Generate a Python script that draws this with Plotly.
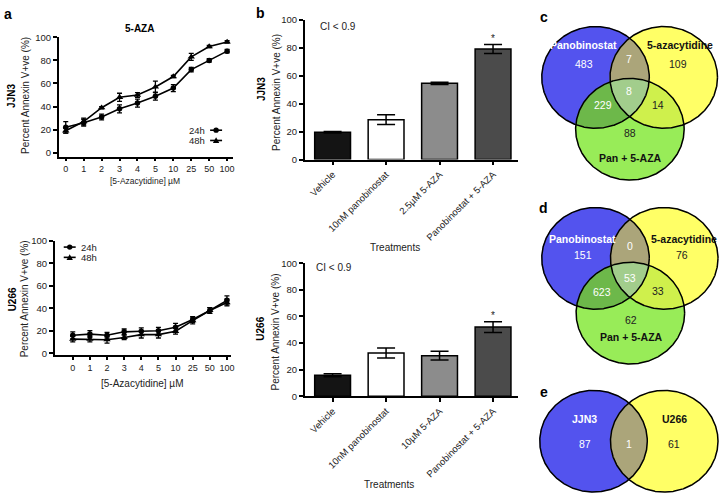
import numpy as np
import plotly.graph_objects as go

W, H = 725, 501
FONT = "Liberation Sans, Arial, sans-serif"

# ---------------- data ----------------
conc = ["0", "1", "2", "3", "4", "5", "10", "25", "50", "100"]
jjn3_24h = [22, 26, 31, 38, 43, 49, 56, 72, 80, 88]
jjn3_24h_err = [5, 3, 2.5, 3.5, 3.5, 3.5, 3, 2, 1.5, 1.5]
jjn3_48h = [19, 27, 39, 48, 50, 57, 66, 83, 92, 96]
jjn3_48h_err = [2, 3, 1, 3.5, 2, 5, 1, 3, 1, 1]
u266_24h = [16, 17, 16, 19, 19.5, 20, 23, 30, 38, 47]
u266_24h_err = [3, 3, 2.5, 2.5, 3, 3, 3.5, 2.5, 2.5, 4]
u266_48h = [12.5, 12.5, 12, 14, 16.5, 16.5, 19.5, 29, 38, 45]
u266_48h_err = [2.5, 2.5, 3, 2, 3, 3, 2.5, 3, 2.5, 3]

treat_jjn3 = ["Vehicle", "10nM panobinostat", "2.5µM 5-AZA", "Panobinostat + 5-AZA"]
bar_jjn3 = [19.5, 28.5, 54.5, 79]
bar_jjn3_err = [0.5, 3.5, 0.8, 3.2]
treat_u266 = ["Vehicle", "10nM panobinostat", "10µM 5-AZA", "Panobinostat + 5-AZA"]
bar_u266 = [15.8, 32.5, 30.5, 52]
bar_u266_err = [1.2, 3.8, 3.3, 4]
bar_colors = ["#141414", "#ffffff", "#8c8c8c", "#4b4b4b"]
sig_flags = ["", "", "", "*"]

venn3_sets = ["Panobinostat", "5-azacytidine", "Pan + 5-AZA"]
# order: P only, A only, C only, P&A, P&C, A&C, all
venn_c_counts = [483, 109, 88, 7, 229, 14, 8]
venn_d_counts = [151, 76, 62, 0, 623, 33, 53]
venn_e_sets = ["JJN3", "U266"]
venn_e_counts = [87, 61, 1]

# ---------------- helpers ----------------
def fx(px):
    return px / W

def fy(py):
    return 1 - py / H

fig = go.Figure()
annotations = []
shapes = []

def ann(x, y, text, size=10, bold=False, color="#222", angle=0, xanchor="center",
        yanchor="middle", xref="paper", yref="paper"):
    if bold:
        text = "<b>" + text + "</b>"
    if xref == "paper":
        x = fx(x)
    if yref == "paper":
        y = fy(y)
    annotations.append(dict(x=x, y=y, xref=xref, yref=yref, text=text, showarrow=False,
                            textangle=angle, xanchor=xanchor, yanchor=yanchor,
                            font=dict(family=FONT, size=size, color=color)))

axis_common = dict(showline=True, linecolor="black", linewidth=1.5, ticks="outside",
                   ticklen=4, tickwidth=1.5, tickcolor="black", showgrid=False,
                   zeroline=False, tickfont=dict(family=FONT, size=9.5, color="#222"))
xline_common = dict(axis_common, ticklen=3, tickfont=dict(family=FONT, size=9, color="#222"))

layout = dict(width=W, height=H, margin=dict(l=0, r=0, t=0, b=0),
              paper_bgcolor="white", plot_bgcolor="rgba(0,0,0,0)", showlegend=False,
              font=dict(family=FONT))

# ---------------- panel a (line charts) ----------------
xi = list(range(len(conc)))

def line_panel(ax, ay, y24, e24, y48, e48):
    for y, e, sym, sz in [(y24, e24, "circle", 5.5), (y48, e48, "triangle-up", 6.5)]:
        fig.add_trace(go.Scatter(
            x=xi, y=y, mode="lines+markers", xaxis=ax, yaxis=ay,
            line=dict(color="black", width=1.6),
            marker=dict(symbol=sym, size=sz, color="black"),
            error_y=dict(type="data", array=e, visible=True, color="black",
                         thickness=1.3, width=2.5),
            hoverinfo="skip"))

line_panel("x", "y", jjn3_24h, jjn3_24h_err, jjn3_48h, jjn3_48h_err)
line_panel("x2", "y2", u266_24h, u266_24h_err, u266_48h, u266_48h_err)

layout["xaxis"] = dict(xline_common, domain=[fx(59), fx(234)], range=[-0.39, 9.33],
                       tickmode="array", tickvals=xi, ticktext=conc, anchor="y")
layout["yaxis"] = dict(axis_common, domain=[fy(154), fy(32)], range=[-3.4, 100],
                       tickvals=[0, 20, 40, 60, 80, 100], anchor="x")
layout["xaxis2"] = dict(xline_common, domain=[fx(55), fx(232)], range=[-1.05, 9.24],
                        tickmode="array", tickvals=xi, ticktext=conc, anchor="y2")
layout["yaxis2"] = dict(axis_common, domain=[fy(357), fy(240)], range=[-1.74, 100],
                        tickvals=[0, 20, 40, 60, 80, 100], anchor="x2")

ann(2, 8, "a", size=14, bold=True, color="black", xanchor="left")
ann(140, 23, "5-AZA", size=10, bold=True, color="black")
ann(12, 92, "JJN3", size=10, bold=True, color="black", angle=-90)
ann(25, 91, "Percent Annexin V+ve (%)", size=10, angle=-90)
ann(146, 179, "[5-Azacytidine] µM", size=8.5)
ann(12, 300, "U266", size=10, bold=True, color="black", angle=-90)
ann(25, 299, "Percent Annexin V+ve (%)", size=10, angle=-90)
ann(143, 386, "[5-Azacytidine] µM", size=10)

# legends (keys drawn as decorations)
def legend_key(x0, x1, y, sym):
    shapes.append(dict(type="line", xref="paper", yref="paper", x0=fx(x0), x1=fx(x1),
                       y0=fy(y), y1=fy(y), line=dict(color="black", width=1.6)))
    xc = (x0 + x1) / 2
    if sym == "circle":
        shapes.append(dict(type="circle", xref="paper", yref="paper", x0=fx(xc - 2.7),
                           x1=fx(xc + 2.7), y0=fy(y + 2.7), y1=fy(y - 2.7),
                           fillcolor="black", line=dict(width=0)))
    else:
        path = "M %f,%f L %f,%f L %f,%f Z" % (fx(xc - 3.2), fy(y + 2.6), fx(xc + 3.2), fy(y + 2.6),
                                              fx(xc), fy(y - 3.2))
        shapes.append(dict(type="path", xref="paper", yref="paper", path=path,
                           fillcolor="black", line=dict(width=0)))

ann(208, 127, "24h", size=9.5, xanchor="right")
ann(208, 137.5, "48h", size=9.5, xanchor="right")
legend_key(211, 223, 127, "circle")
legend_key(211, 223, 137.5, "triangle")
ann(79, 246.5, "24h", size=9.5, xanchor="left")
ann(79, 257, "48h", size=9.5, xanchor="left")
legend_key(64, 76, 246.5, "circle")
legend_key(64, 76, 257, "triangle")

# ---------------- panel b (bar charts) ----------------
def bar_panel(ax, ay, cats, vals, errs):
    bx = list(range(len(cats)))
    fig.add_trace(go.Bar(
        x=bx, y=vals, xaxis=ax, yaxis=ay, width=0.67,
        marker=dict(color=bar_colors, line=dict(color="black", width=1.5)),
        error_y=dict(type="data", array=errs, visible=True, color="black",
                     thickness=1.5, width=9),
        hoverinfo="skip"))
    for i, (v, e, s) in enumerate(zip(vals, errs, sig_flags)):
        if s:
            annotations.append(dict(x=i, y=v + e + 4.5, xref=ax, yref=ay, text=s,
                                    showarrow=False, yanchor="middle",
                                    font=dict(family=FONT, size=10, color="#222")))
    return bx

bx = bar_panel("x3", "y3", treat_jjn3, bar_jjn3, bar_jjn3_err)
bar_panel("x4", "y4", treat_u266, bar_u266, bar_u266_err)

bar_x = dict(axis_common, range=[-0.521, 3.464], tickmode="array", tickvals=bx,
             tickangle=-45, tickfont=dict(family=FONT, size=9.5, color="#222"))
layout["xaxis3"] = dict(bar_x, domain=[fx(306), fx(520)], ticktext=treat_jjn3, anchor="y3")
layout["yaxis3"] = dict(axis_common, domain=[fy(157), fy(14)], range=[0, 100],
                        tickvals=[0, 20, 40, 60, 80, 100], anchor="x3")
layout["xaxis4"] = dict(bar_x, domain=[fx(306), fx(520)], ticktext=treat_u266, anchor="y4")
layout["yaxis4"] = dict(axis_common, domain=[fy(399), fy(263)], range=[0, 100],
                        tickvals=[0, 20, 40, 60, 80, 100], anchor="x4")

ann(262, 7, "b", size=14, bold=True, color="black")
ann(319, 21, "CI < 0.9", size=10, xanchor="left")
ann(262, 85, "JJN3", size=10, bold=True, color="black", angle=-90)
ann(277, 88, "Percent Annexin V+ve (%)", size=10, angle=-90)
ann(397, 247, "Treatments", size=10)
ann(315, 267, "CI < 0.9", size=10, xanchor="left")
ann(262, 330, "U266", size=10, bold=True, color="black", angle=-90)
ann(277, 333, "Percent Annexin V+ve (%)", size=10, angle=-90)
ann(391, 489, "Treatments", size=10)

# ---------------- panels c, d, e (Venn diagrams) ----------------
BLUE = "#5353ee"
YELLOW = "#ffff66"
GREEN = "#98ec58"
BY = "#aba57a"
BG = "#6db84a"
YG = "#cff04c"
BYG = "#a2cd8c"

def ell_pts(e, n=720):
    cx, cy, rx, ry = e
    t = np.linspace(0, 2 * np.pi, n, endpoint=False)
    return np.c_[cx + rx * np.cos(t), cy + ry * np.sin(t)]

def inside(p, e):
    cx, cy, rx, ry = e
    return ((p[:, 0] - cx) / rx) ** 2 + ((p[:, 1] - cy) / ry) ** 2 <= 1 + 1e-9

def region(es):
    pts = []
    for i, e in enumerate(es):
        p = ell_pts(e, 2880)
        m = np.ones(len(p), bool)
        for j, f in enumerate(es):
            if j != i:
                m &= inside(p, f)
        pts.append(p[m])
    P = np.vstack(pts)
    c = P.mean(axis=0)
    ang = np.arctan2(P[:, 1] - c[1], P[:, 0] - c[0])
    return P[np.argsort(ang)]

def poly(P, color, ax, ay):
    xs = list(P[:, 0]) + [P[0, 0]]
    ys = list(P[:, 1]) + [P[0, 1]]
    fig.add_trace(go.Scatter(x=xs, y=ys, mode="lines", fill="toself", fillcolor=color,
                             line=dict(width=0.5, color=color), xaxis=ax, yaxis=ay,
                             hoverinfo="skip"))

def outline(e, ax, ay):
    P = ell_pts(e)
    xs = list(P[:, 0]) + [P[0, 0]]
    ys = list(P[:, 1]) + [P[0, 1]]
    fig.add_trace(go.Scatter(x=xs, y=ys, mode="lines", line=dict(width=1.5, color="black"),
                             xaxis=ax, yaxis=ay, hoverinfo="skip"))

def venn_axes(n, y0, y1):
    layout["xaxis%d" % n] = dict(domain=[fx(535), fx(725)], range=[535, 725], visible=False,
                                 anchor="y%d" % n, fixedrange=True)
    layout["yaxis%d" % n] = dict(domain=[fy(y1), fy(y0)], range=[y1, y0], visible=False,
                                 anchor="x%d" % n, fixedrange=True)

def venn3(n, y0, y1, circles, counts, letter_pos, pos):
    ax, ay = "x%d" % n, "y%d" % n
    venn_axes(n, y0, y1)
    b, yl, g = circles
    poly(ell_pts(b), BLUE, ax, ay)
    poly(ell_pts(yl), YELLOW, ax, ay)
    poly(ell_pts(g), GREEN, ax, ay)
    poly(region([b, yl]), BY, ax, ay)
    poly(region([b, g]), BG, ax, ay)
    poly(region([yl, g]), YG, ax, ay)
    poly(region([b, yl, g]), BYG, ax, ay)
    for e in circles:
        outline(e, ax, ay)
    ann(letter_pos[0], letter_pos[1], letter_pos[2], size=14, bold=True, color="black")
    ann(*pos["s0"], venn3_sets[0], size=10.5, bold=True, color="white")
    ann(*pos["s1"], venn3_sets[1], size=10.5, bold=True, color="#111")
    ann(*pos["s2"], venn3_sets[2], size=10.5, bold=True, color="#111")
    cols = ["white", "#222", "#222", "white", "white", "#222", "white"]
    for k in range(7):
        ann(*pos["n%d" % k], str(counts[k]), size=10.5, color=cols[k])

venn3(5, 15, 190,
      [(598, 73, 54, 52), (666.5, 73, 54, 52), (632.5, 126, 54.5, 52)],
      venn_c_counts, (546, 11, "c"),
      dict(s0=(586, 40), s1=(683, 40), s2=(633, 155),
           n0=(586, 59), n1=(681, 59), n2=(633, 130), n3=(632, 54), n4=(606, 101),
           n5=(661, 101), n6=(632, 87)))

venn3(6, 195, 375,
      [(598, 258, 54, 52), (667, 258, 54, 52), (633, 314, 54.5, 52)],
      venn_d_counts, (546, 207, "d"),
      dict(s0=(585, 238), s1=(687, 238), s2=(634, 338),
           n0=(585, 255), n1=(685, 255), n2=(634, 321), n3=(633, 245), n4=(605, 292),
           n5=(661, 291), n6=(633, 278)))

# panel e
venn_axes(7, 375, 501)
b_e = (596, 445, 54, 52)
y_e = (667, 445, 54, 52)
poly(ell_pts(b_e), BLUE, "x7", "y7")
poly(ell_pts(y_e), YELLOW, "x7", "y7")
poly(region([b_e, y_e]), BY, "x7", "y7")
outline(b_e, "x7", "y7")
outline(y_e, "x7", "y7")
ann(546, 395, "e", size=14, bold=True, color="black")
ann(587, 422, venn_e_sets[0], size=10.5, bold=True, color="white")
ann(677, 422, venn_e_sets[1], size=10.5, bold=True, color="#111")
ann(587, 448, str(venn_e_counts[0]), size=10.5, color="white")
ann(677, 448, str(venn_e_counts[1]), size=10.5, color="#222")
ann(632, 448, str(venn_e_counts[2]), size=10.5, color="white")

layout["annotations"] = annotations
layout["shapes"] = shapes
fig.update_layout(**layout)
fig.write_html("out.html", config={"displayModeBar": False},
               post_script="document.body.style.margin='0';document.body.style.overflow='hidden';")
